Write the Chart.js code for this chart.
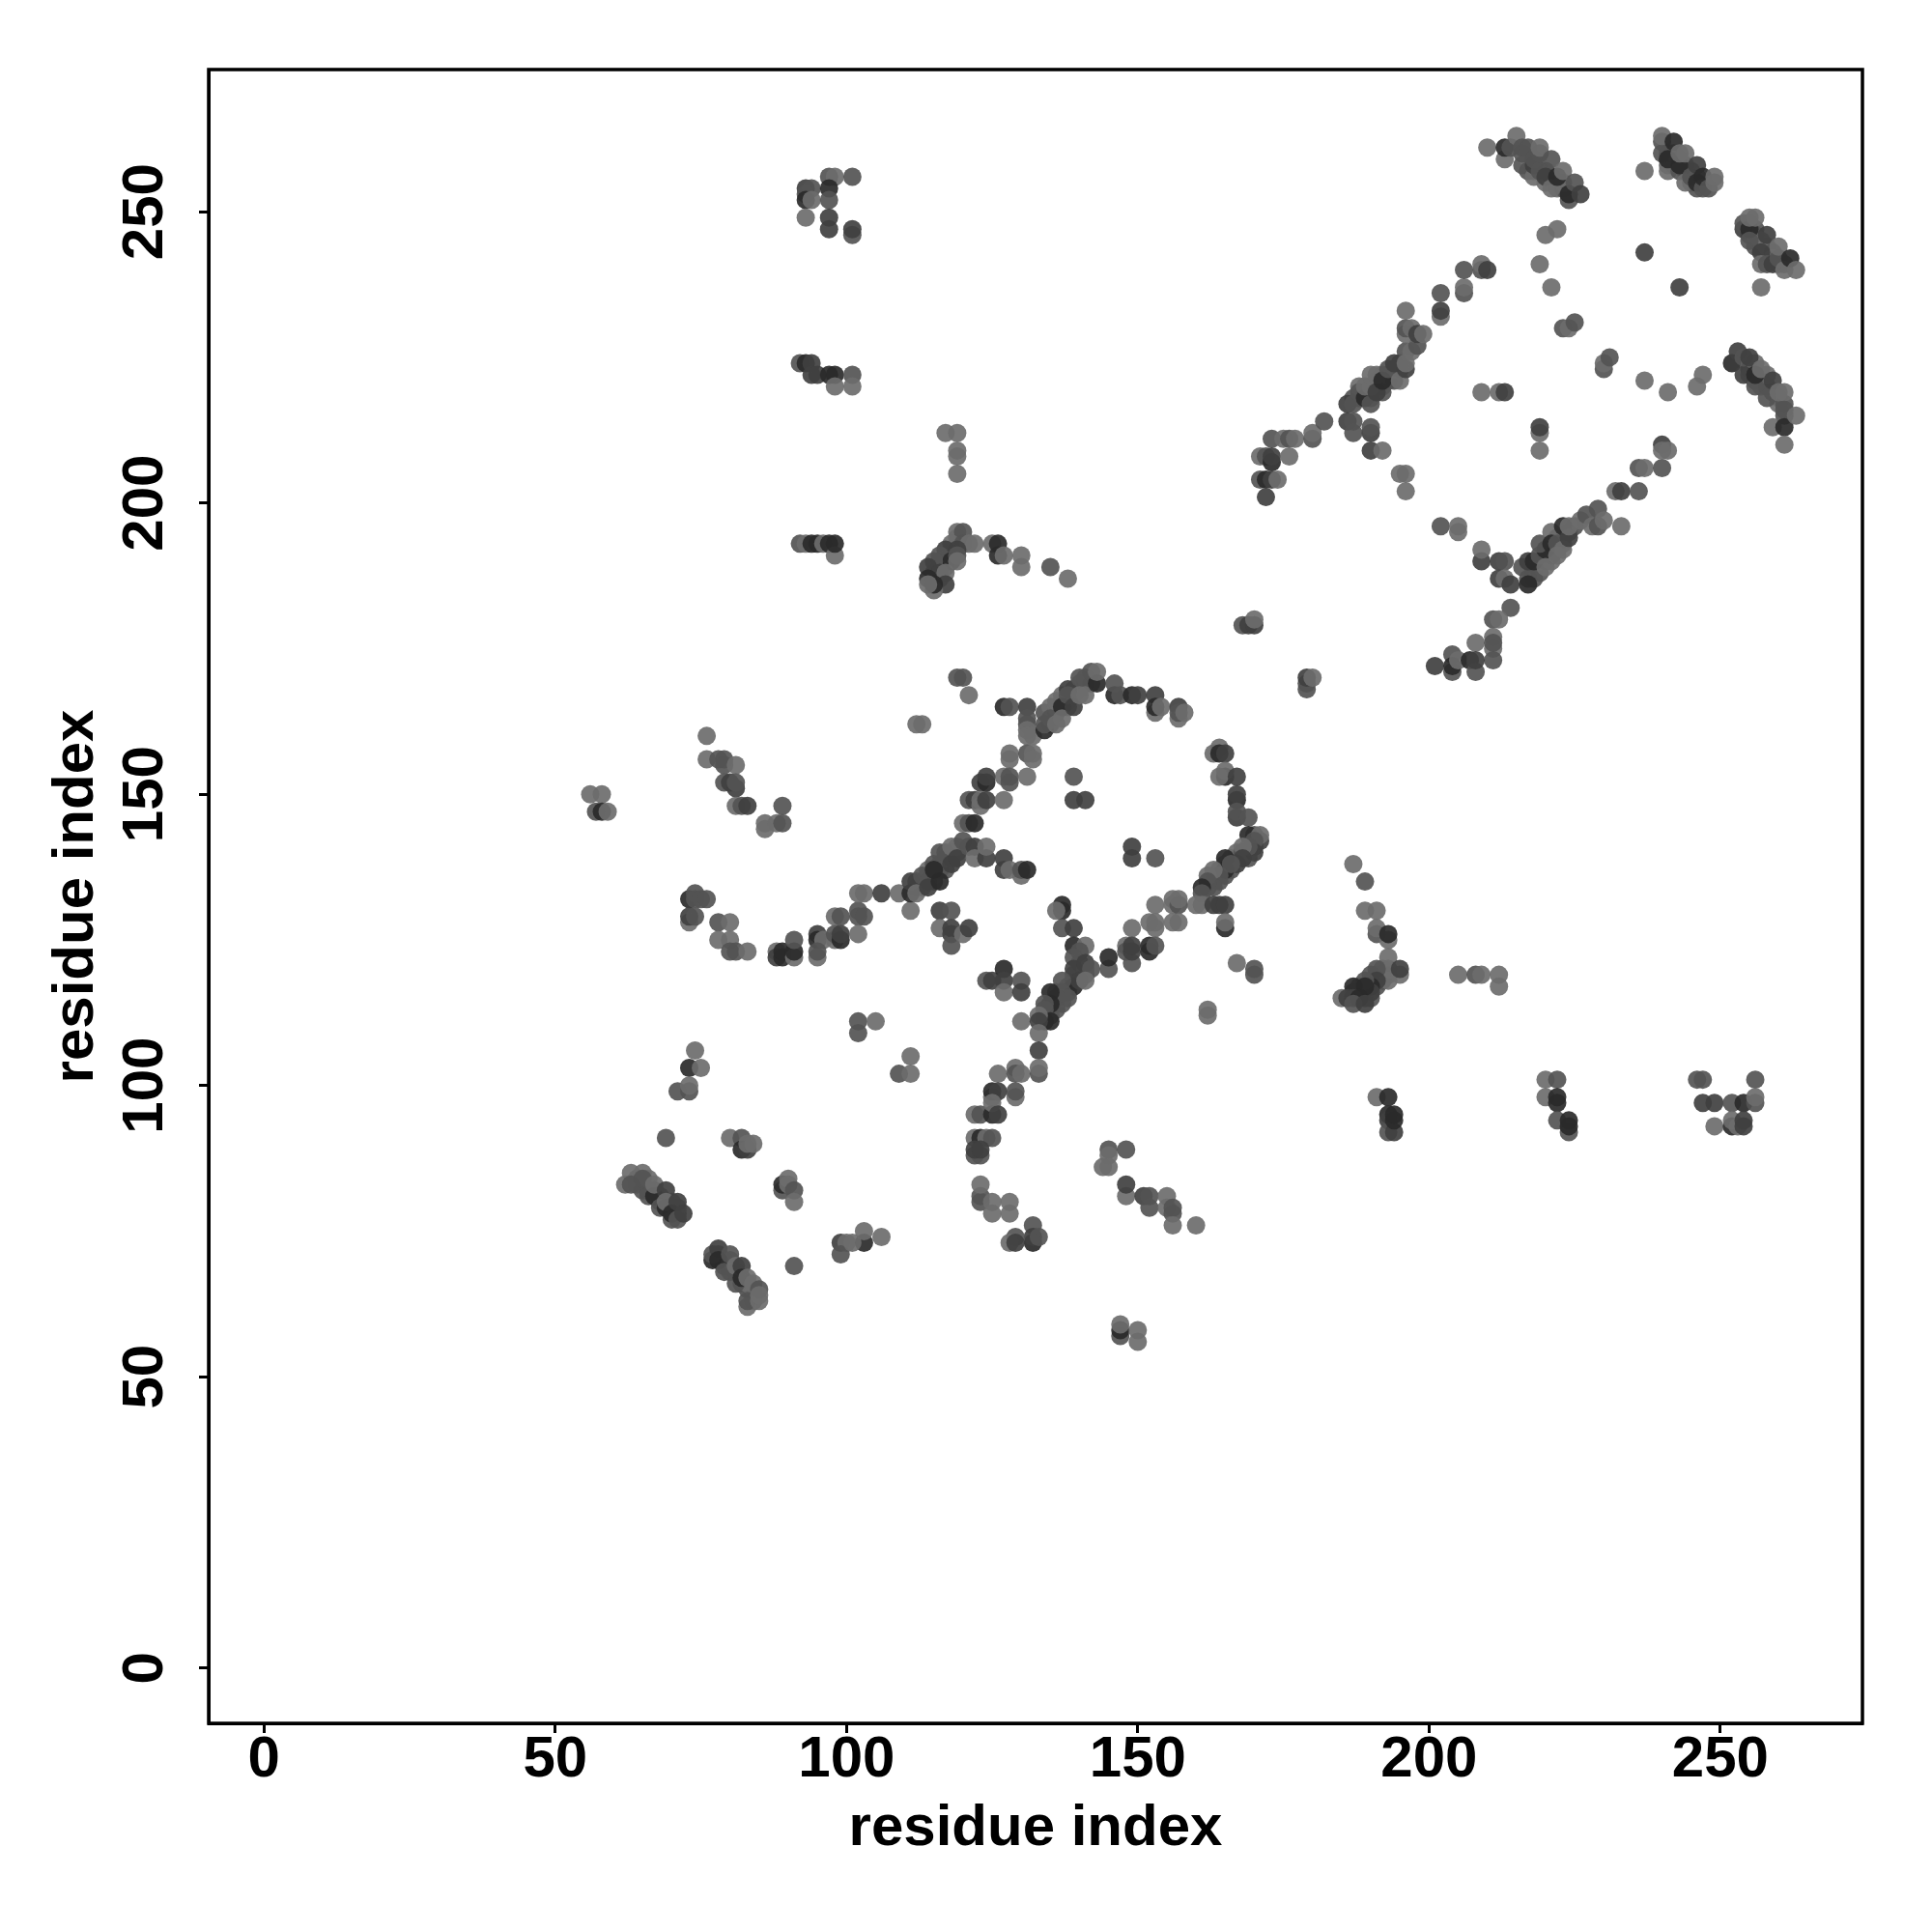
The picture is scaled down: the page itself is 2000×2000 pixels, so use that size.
<!DOCTYPE html>
<html>
<head>
<meta charset="utf-8">
<title>contact map</title>
<script src="https://cdn.jsdelivr.net/npm/chart.js@4/dist/chart.umd.min.js"></script>
<style>
body { margin: 0; background: #fff; }
canvas { display: block; }
</style>
</head>
<body>
<canvas id="mycanvas" width="2000" height="2000"></canvas>
<script>
// contacts as [residue x, residue y, strength]; strength 0 = weak ... 3 = strong
var lowerLeft = [
	[74,106,0],[73,103,3],[75,103,0],[71,99,1],[73,99,1],[73,100,0],[69,91,1],
	[80,91,0],[82,91,1],[82,89,3],[83,89,2],[83,90,0],[84,90,0],
	[89,82,1],[89,83,3],[90,84,0],[90,83,0],[91,82,1],[91,80,0],
	[62,83,0],[63,85,0],[65,85,0],[63,83,1],[65,84,1],[66,81,1],[67,81,3],[67,83,0],
	[69,82,2],[68,79,1],[69,79,3],[69,80,0],[70,77,1],[70,78,3],[71,77,1],[71,80,2],[72,78,2],
	[77,70,3],[77,71,1],[78,72,2],[78,70,3],[79,68,1],[80,71,1],[81,69,0],[82,69,2],[81,66,1],
	[82,67,3],[83,67,0],[84,66,0],[83,62,0],[83,63,1],[85,63,0],[85,65,1],[85,64,0],
	[91,69,1],[99,73,2],[100,73,0],[99,71,1],[103,73,3],[103,75,0],[101,73,0],[106,74,0],
	[102,109,1],[102,111,1],[105,111,0],[109,102,1],[111,102,0],[111,105,0]
];
var lowerMiddle = [
	[124,118,1],[125,118,2],[127,120,3],[127,118,2],[127,116,0],[130,118,1],[130,116,2],[130,111,0],
	[126,102,0],[129,103,0],[129,102,1],[130,102,0],[129,98,0],[129,99,1],
	[125,98,0],[125,99,3],[126,99,2],[122,95,0],[123,95,1],[125,95,3],[125,97,0],[126,95,2],
	[122,91,0],[123,91,3],[124,91,0],[125,91,1],[122,88,1],[123,88,1],[122,89,2],[123,89,2],
	[123,81,1],[123,80,1],[123,83,0],[125,80,0],[125,78,0],[128,80,0],[128,78,0],
	[132,76,1],[132,73,3],[132,74,2],[133,74,1],[129,74,1],[128,73,0],[129,73,2],
	[145,89,1],[148,89,1],[145,88,0],[144,86,0],[145,86,0],
	[148,81,0],[148,83,2],[151,81,2],[152,79,1],[152,81,1],[155,81,0],[155,79,0],[156,78,1],[156,79,1],[156,76,0],[160,76,0],
	[147,57,1],[147,58,3],[147,59,0],[150,56,0],[150,58,0],[162,112,0],[162,113,0]
];
var leftChain = [
	[56,150,0],[58,150,0],[57,147,1],[58,147,3],[59,147,0],
	[76,160,0],[76,156,0],[78,156,1],[79,156,1],[79,155,1],[81,155,0],[79,152,1],[80,152,2],[81,151,2],[81,152,1],
	[81,148,0],[82,148,1],[83,148,2],[89,148,1],[86,144,0],[86,145,0],[88,145,0],[89,145,1],
	[73,132,3],[74,133,1],[74,132,1],[75,132,1],[76,132,1],[73,128,0],[73,129,2],[74,129,1],
	[78,128,1],[80,128,0],[78,125,0],[80,125,0],[80,123,1],[81,123,1],[83,123,0],
	[88,123,0],[88,122,2],[89,122,3],[89,123,3],[91,122,0],[91,123,3],[91,125,1],
	[95,126,2],[95,125,3],[96,125,0],[95,122,0],[95,123,1],
	[98,129,0],[99,129,1],[98,125,0],[98,126,1],[99,125,3],[99,126,2],
	[102,130,1],[102,129,1],[103,129,1],[102,126,0],[102,133,0],[103,133,0],[106,133,2],[109,133,0],[111,130,0],
	[112,162,0],[113,162,0],
	[111,133,3],[111,135,2],[112,133,0],[113,136,1],[114,135,1],[114,134,2],[115,138,1],[115,137,3],[116,135,3],[116,140,1],
	[117,140,1],[118,138,2],[118,141,0],[119,139,2],[120,142,1],[121,141,1],[122,141,2],[122,139,0],[124,139,2],[124,141,0],
	[116,130,2],[118,130,1],[116,127,0],[118,127,2],[118,126,2],[118,124,1],[120,126,0],[121,127,2]
];
var centreLoop = [
	[119,170,1],[120,170,1],[121,167,0],[127,165,3],[128,165,1],[131,165,2],[131,163,1],[131,162,1],[131,161,0],[131,160,0],[132,160,0],
	[134,161,3],[134,162,1],[135,163,1],[136,162,0],[136,166,0],[137,165,3],[137,163,0],[138,168,2],[138,167,1],[139,165,2],
	[140,170,1],[140,167,0],[141,167,0],[142,171,1],[143,169,3],[143,171,0],[146,167,3],[146,169,1],[147,167,1],
	[149,167,3],[150,167,2],[153,167,2],[153,164,0],[153,165,3],[154,165,0],[157,165,2],[157,163,0],[157,164,1],[158,164,0],
	[128,156,0],[128,157,0],[131,157,1],[132,156,0],[132,157,0],[127,153,0],[128,153,1],[128,152,1],[131,153,0],
	[123,152,2],[124,152,3],[124,153,2],[121,149,1],[122,149,2],[123,148,0],[123,149,0],[124,149,2],[127,149,0],
	[120,145,0],[121,145,1],[122,145,3],[139,153,1],[139,149,2],[141,149,2],
	[163,157,0],[164,158,0],[164,157,3],[165,157,2],[165,153,3],[164,153,0],[165,154,0],[167,153,2],[167,149,3],[167,150,2],
	[167,146,2],[167,147,1],[169,146,1],[169,143,3],[171,142,2],[171,143,0],[170,142,1],[170,140,2],[169,141,1],[168,141,0],
	[168,139,2],[167,138,2],[165,137,3],[165,139,3],[166,138,1],[164,136,1],[163,134,1],[163,137,0],[162,136,0],[162,135,1],[161,134,3],[161,133,1],
	[160,131,0],[161,131,0],[163,131,2],[164,131,2],[165,131,2],[165,127,3],[165,128,0],
	[153,131,0],[156,131,0],[156,132,0],[157,131,1],[157,132,0],[156,128,0],[157,128,0],[152,128,0],[153,127,0],[153,128,0],[149,127,0],
	[148,124,0],[148,123,1],[149,121,1],[149,123,2],[149,124,2],[152,123,3],[152,124,3],[153,124,1],[145,120,1],[145,122,3],
	[149,141,2],[149,139,2],[153,139,1],[167,121,0],[170,119,1],[170,120,1],
	[127,139,2],[127,137,2],[128,137,0],[130,136,0],[130,137,1],[131,137,3],
	[137,131,3],[137,130,3],[136,130,0],[137,127,1],[139,127,2],[139,124,3],[141,124,0],[140,123,1],[139,122,1],[139,120,2],
	[141,121,2],[142,120,1],[139,117,3],[140,118,2],[141,118,0],[137,118,1],[137,116,1],[138,115,1],[136,115,1],[136,113,1],
	[135,116,3],[135,114,3],[134,114,1],[134,113,1],[135,111,3],[134,111,3],[133,112,0],[133,111,2],[133,109,0],[133,106,2],[133,102,1],[133,103,0]
];
var upperLeft = [
	[97,256,1],[98,256,0],[101,256,1],[93,254,2],[94,254,1],[97,254,3],[93,253,1],[93,252,3],[94,252,0],[97,252,1],[93,249,0],
	[97,249,2],[97,247,2],[101,246,1],[101,247,2],
	[92,224,1],[93,224,3],[94,224,2],[94,222,2],[95,222,2],[97,222,3],[98,222,3],[101,222,1],[98,220,0],[101,220,0],
	[117,212,0],[119,212,0],[119,209,0],[119,208,0],[119,205,0],
	[92,193,1],[93,193,0],[94,193,3],[95,193,3],[96,193,0],[97,193,3],[98,191,0],[98,193,3],
	[119,195,0],[120,195,1],[118,193,0],[120,193,1],[121,193,0],[122,193,0],[119,192,2],[117,192,2],[116,191,1],
	[118,190,3],[119,191,1],[119,190,0],[115,190,1],[114,189,2],[116,188,2],[117,188,0],[117,186,2],[114,187,3],[115,185,0],[115,186,3],[114,186,0],
	[125,193,0],[126,193,3],[126,191,3],[127,191,0],[130,191,0],[130,189,0],[135,189,1],[138,187,0]
];
var lowerRight = [
	[168,179,1],[169,179,2],[170,179,2],[170,180,0],[179,168,1],[179,169,1],[179,170,2],[180,170,0],
	[187,138,0],[189,135,1],[189,130,0],[191,130,0],[191,126,1],[191,127,0],[193,125,0],[193,126,3],[193,122,0],
	[193,120,0],[193,118,0],[191,120,1],[190,119,1],[191,118,2],[190,117,3],[190,116,2],[189,118,1],[189,117,3],[187,117,3],
	[185,115,0],[186,115,2],[187,115,2],[188,115,3],[187,114,1],[189,114,2],[195,119,0],[195,120,2],
	[205,119,0],[208,119,1],[209,119,0],[212,117,0],[212,119,0],
	[191,98,0],[193,98,3],[193,95,3],[193,94,2],[193,92,1],[194,92,2],[194,94,3],[194,95,3],
	[220,101,0],[222,101,1],[220,98,0],[222,98,3],[222,97,3],[222,94,1],[224,92,1],[224,93,3],[224,94,3],
	[246,101,1],[247,101,1],[256,101,1],[247,97,2],[249,97,2],[252,97,1],[254,97,3],[256,97,1],[256,98,0],
	[249,93,0],[252,93,3],[252,94,0],[253,93,0],[254,93,2],[254,94,2]
];
var upperBand = [
	[173,211,1],[175,211,0],[176,211,1],[177,211,0],[180,211,1],[180,212,0],[182,214,1],
	[171,208,0],[172,208,1],[173,207,3],[173,208,2],[176,208,0],[171,204,1],[172,204,3],[173,204,2],[174,204,0],[172,201,2],
	[186,214,2],[187,212,1],[187,214,1],[190,212,2],[190,213,1],[190,209,2],[192,209,0],[195,205,0],[196,205,0],[196,202,0],
	[186,217,2],[187,217,1],[188,219,1],[189,218,3],[189,220,0],[190,217,1],[190,220,0],[190,222,0],[191,219,2],[191,222,0],
	[192,221,3],[193,223,1],[194,224,2],[195,221,0],[196,223,2],[196,224,0],[197,226,0],[198,227,1],[196,229,0],[196,230,1],[197,230,0],
	[198,229,2],[199,229,0],[196,233,0],[202,232,0],[202,233,2],[202,236,1],[206,236,1],[206,237,0],[206,240,1],[209,240,1],[209,241,0],[210,240,2],
	[221,237,0],[219,241,0],[220,246,0],[222,247,0],[223,230,1],[224,230,0],[225,231,1],[230,223,1],[230,224,0],[231,225,1],
	[237,221,0],[241,219,0],[246,220,0],[247,222,0],[209,219,0],[212,219,0],[213,219,2],[219,212,0],[219,213,2],[219,209,0],
	[237,243,2],[243,237,2]
];
var upperDiagonal = [
	[202,196,1],[205,195,0],[205,196,0],[209,190,2],[209,192,0],[212,190,2],[213,190,1],[212,187,2],[213,187,0],[214,186,2],
	[214,182,1],[211,180,1],[212,180,0],[211,177,0],[208,176,0],[211,175,0],[211,176,1],[211,173,1],
	[201,172,2],[204,174,1],[204,171,1],[204,172,3],[205,173,0],[207,173,3],[208,171,1],[208,173,2],
	[216,189,1],[217,187,1],[217,186,3],[217,190,2],[218,190,3],[219,191,1],[220,192,3],[220,189,0],[219,193,1],[221,195,0],
	[221,193,3],[222,193,1],[222,191,0],[223,196,3],[223,192,0],[224,194,2],[224,196,0],[226,197,0],[227,198,1],[228,196,0],
	[229,196,1],[229,199,1],[230,197,0],[233,196,0],[232,202,0],[233,202,2],[236,202,1],[236,206,1],[237,206,0],[240,206,1],
	[240,210,2],[240,209,0],[241,209,0]
];
var topRight = [
	[210,261,0],[213,259,0],[213,261,3],[214,261,1],[215,263,0],[216,260,1],[216,261,1],[217,261,1],[218,258,2],[218,259,1],[219,257,1],
	[219,260,1],[219,261,0],[220,256,2],[221,254,0],[221,259,1],[222,256,3],[223,257,0],[224,252,1],[224,253,3],[225,255,1],[226,253,2],
	[237,257,0],[241,257,0],[240,260,1],[240,262,1],[240,263,0],[241,259,3],[242,262,3],[243,257,1],[243,258,3],[243,260,0],[244,260,0],
	[244,255,0],[245,256,1],[246,255,3],[246,258,2],[247,254,1],[247,256,3],[248,254,1],[249,255,0],[249,256,0],
	[254,247,2],[254,248,1],[255,247,3],[255,245,1],[255,249,0],[256,249,0],[257,243,2],[257,241,0],[258,241,1],[258,246,2],
	[259,241,2],[260,242,1],[260,244,0],[261,240,0],[262,242,3],[263,240,0],[257,237,0],
	[252,224,3],[253,226,2],[254,222,2],[254,225,1],[255,225,2],[256,220,1],[256,222,3],[257,223,0],[258,218,1],[259,221,2],
	[260,219,0],[261,219,0],[261,215,1],[261,216,1],[259,213,0],[261,213,3],[263,215,0],[261,210,0]
];
// extra contacts read where the bands overlap most, drawn underneath the rest
var denseBands = [
	[187,218,1],[188,218,1],[188,220,0],[189,219,1],[190,218,1],[190,219,0],[191,220,1],[191,221,0],[192,219,1],[192,220,1],[192,222,0],
	[193,221,1],[193,222,0],[194,221,1],[194,223,0],[195,223,1],[195,224,1],[196,226,1],
	[218,187,1],[218,188,0],[219,188,1],[219,190,0],[220,190,1],[220,191,0],[221,190,0],[221,191,1],[222,192,1],[222,194,1],[223,193,0],[223,194,1],[224,195,1],[225,196,1],
	[134,164,1],[135,165,0],[135,162,1],[136,164,1],[136,165,0],[137,166,1],[137,167,0],[138,165,1],[138,166,1],[139,167,1],[139,168,0],[140,168,1],[140,169,0],[141,169,1],[141,170,0],[142,169,1],
	[162,134,1],[163,135,0],[164,135,1],[164,137,0],[165,136,1],[165,138,0],[166,137,1],[166,139,0],[167,139,1],[167,140,0],[168,140,1],[169,139,1],[169,140,0],[170,141,1],[170,143,1],
	[112,134,1],[112,135,1],[113,134,0],[113,135,1],[114,136,1],[114,137,0],[115,135,1],[115,136,0],[116,137,1],[116,138,0],[117,137,1],[117,139,0],[118,139,1],[118,140,0],[119,140,1],[119,141,0],
	[134,112,1],[135,112,1],[135,113,0],[136,114,1],[136,116,0],[137,114,1],[137,115,0],[138,116,1],[138,117,0],[139,118,1],[139,119,0],[140,119,1],[140,120,0],[140,121,1],[141,119,1],[141,120,0],
	[187,116,1],[188,116,1],[188,117,0],[189,115,1],[189,116,0],[190,115,1],[190,118,0],[191,117,1],[191,119,0],[192,118,1],[192,119,1],[192,120,0],[193,119,1],
	[115,188,1],[115,187,1],[116,187,0],[116,189,1],[116,190,0],[117,189,1],[117,190,0],[118,191,1],[118,192,0],[119,193,1],[119,194,0],
	[216,258,1],[217,259,0],[217,257,1],[218,257,1],[218,256,0],[220,257,1],[220,255,0],[221,256,1],[222,255,1],[222,254,0],[223,254,1],[223,255,0],
	[241,260,1],[241,258,0],[242,258,1],[242,260,0],[243,259,1],[244,257,1],[244,258,0],[245,257,1],[245,255,0],[246,254,1],[246,256,0],
	[255,246,1],[255,248,0],[256,244,1],[256,246,0],[256,247,1],[257,244,1],[257,245,0],[258,243,1],[258,244,0],[259,243,1],[259,242,0],[260,241,1],[261,241,1],
	[255,223,1],[255,222,0],[256,224,0],[256,221,1],[257,221,1],[257,220,0],[258,220,1],[258,222,0],[259,219,1],[260,218,1],[260,217,0],[261,217,1],
	[64,84,1],[64,83,0],[65,82,1],[66,82,1],[66,84,0],[67,82,1],[68,80,1],[68,81,0],[70,79,1],[70,80,0],[71,78,1],[71,79,0],
	[78,71,1],[79,69,1],[79,70,0],[80,68,1],[80,70,0],[81,68,1],[82,66,1],[83,65,1],[83,66,0],[84,64,1],[84,65,0],[84,63,1]
];

var tickValues = [0, 50, 100, 150, 200, 250];
var axisTitle = 'residue index';
var greys = ['rgba(108,108,108,0.92)', 'rgba(84,84,84,0.92)', 'rgba(64,64,64,0.92)', 'rgba(42,42,42,0.92)'];

var contacts = denseBands.concat(lowerLeft, lowerMiddle, leftChain, centreLoop, upperLeft, lowerRight, upperBand, upperDiagonal, topRight);

// box round the plot, the axes only give left and bottom
var plotBox = {
	id: 'plotBox',
	afterDraw: function(chart) {
		var a = chart.chartArea;
		var c = chart.ctx;
		c.save();
		c.strokeStyle = '#000';
		c.lineWidth = 3.5;
		c.strokeRect(a.left, a.top, a.right - a.left, a.bottom - a.top);
		c.restore();
	}
};

var axisFont = { family: '"Liberation Sans"', weight: 'bold', size: 60 };

function useTicks(scale) {
	scale.ticks = tickValues.map(function(v) { return { value: v }; });
}

new Chart(document.getElementById('mycanvas'), {
	type: 'scatter',
	data: {
		datasets: [{
			data: contacts.map(function(p) { return { x: p[0], y: p[1] }; }),
			pointRadius: 9.5,
			pointBorderWidth: 0,
			pointBackgroundColor: contacts.map(function(p) { return greys[p[2]]; })
		}]
	},
	options: {
		responsive: false,
		animation: false,
		layout: { padding: { top: 72, right: 72, left: 0, bottom: 0 } },
		plugins: { legend: { display: false }, tooltip: { enabled: false } },
		scales: {
			x: {
				min: -9.5,
				max: 274.4,
				afterBuildTicks: useTicks,
				afterFit: function(s) { s.height = 216; },
				border: { color: '#000', width: 3 },
				grid: { drawOnChartArea: false, tickLength: 10, tickWidth: 3, tickColor: '#000' },
				ticks: { color: '#000', font: axisFont, padding: -8, maxRotation: 0, autoSkip: false },
				title: { display: true, text: axisTitle, color: '#000', font: axisFont, padding: { top: 0, bottom: 71 } }
			},
			y: {
				min: -9.5,
				max: 274.4,
				afterBuildTicks: useTicks,
				afterFit: function(s) { s.width = 216; },
				border: { color: '#000', width: 3 },
				grid: { drawOnChartArea: false, tickLength: 10, tickWidth: 3, tickColor: '#000' },
				ticks: { color: '#000', font: axisFont, padding: 4, minRotation: 90, maxRotation: 90, crossAlign: 'center', autoSkip: false },
				title: { display: true, text: axisTitle, color: '#000', font: axisFont, padding: { top: 43, bottom: 0 } }
			}
		}
	},
	plugins: [plotBox]
});
</script>
</body>
</html>
